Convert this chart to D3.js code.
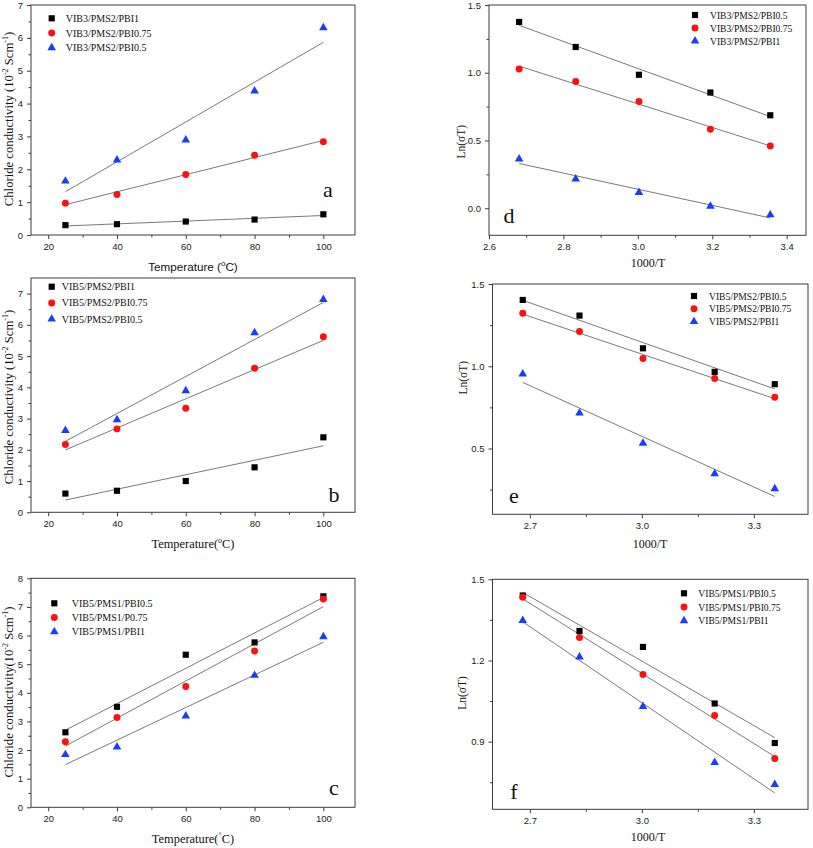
<!DOCTYPE html>
<html><head><meta charset="utf-8">
<script src="https://cdn.jsdelivr.net/npm/d3@7"></script>
<style>body{margin:0;background:#fff}</style>
</head><body><svg id="c" width="813" height="848" xmlns="http://www.w3.org/2000/svg"></svg>
<script>
// ---------- data ----------
const tempX = [25, 40, 60, 80, 100];
const invT = [2.681, 2.833, 3.003, 3.195, 3.356];

const aNames = ["VIB3/PMS2/PBI1", "VIB3/PMS2/PBI0.75", "VIB3/PMS2/PBI0.5"];
const a_PBI1 = [0.30, 0.33, 0.41, 0.47, 0.63];
const a_PBI075 = [0.97, 1.23, 1.84, 2.43, 2.84];
const a_PBI05 = [1.64, 2.28, 2.89, 4.38, 6.31];

const bNames = ["VIB5/PMS2/PBI1", "VIB5/PMS2/PBI0.75", "VIB5/PMS2/PBI0.5"];
const b_PBI1 = [0.60, 0.69, 1.00, 1.44, 2.40];
const b_PBI075 = [2.17, 2.67, 3.33, 4.61, 5.62];
const b_PBI05 = [2.62, 2.96, 3.89, 5.75, 6.81];

const cNames = ["VIB5/PMS1/PBI0.5", "VIB5/PMS1/P0.75", "VIB5/PMS1/PBI1"];
const c_PBI05 = [2.62, 3.51, 5.33, 5.76, 7.37];
const c_P075 = [2.29, 3.14, 4.22, 5.46, 7.28];
const c_PBI1 = [1.84, 2.11, 3.19, 4.61, 5.96];

const dNames = ["VIB3/PMS2/PBI0.5", "VIB3/PMS2/PBI0.75", "VIB3/PMS2/PBI1"];
const d_PBI05 = [1.375, 1.190, 0.985, 0.854, 0.686];
const d_PBI075 = [1.027, 0.936, 0.788, 0.583, 0.459];
const d_PBI1 = [0.363, 0.215, 0.116, 0.015, -0.049];

const eNames = ["VIB5/PMS2/PBI0.5", "VIB5/PMS2/PBI0.75", "VIB5/PMS2/PBI1"];
const e_PBI05 = [1.403, 1.308, 1.109, 0.966, 0.891];
const e_PBI075 = [1.322, 1.211, 1.047, 0.925, 0.812];
const e_PBI1 = [0.953, 0.715, 0.532, 0.346, 0.255];

const fNames = ["VIB5/PMS1/PBI0.5", "VIB5/PMS1/PBI0.75", "VIB5/PMS1/PBI1"];
const f_PBI05 = [1.440, 1.309, 1.250, 1.041, 0.895];
const f_PBI075 = [1.434, 1.285, 1.148, 0.997, 0.838];
const f_PBI1 = [1.348, 1.213, 1.030, 0.823, 0.742];

const tempTicks = [20, 40, 60, 80, 100];
const tempMinor = [30, 50, 70, 90];
const dXTicks = [2.6, 2.8, 3.0, 3.2, 3.4];
const dXMinor = [2.7, 2.9, 3.1, 3.3];
const efXTicks = [2.7, 3.0, 3.3];
const efXMinor = [2.85, 3.15];

// ---------- drawing ----------
const svg = d3.select("#c");
const AX = "#3c3c3c";
const FIT = "#7a7a7a";
const SANS = "'Liberation Sans', Arial, sans-serif";
const SERIF = "'Liberation Serif', 'Times New Roman', serif";
const colors = ["#000000", "#ff1010", "#1a3cff"];
const shapes = [d3.symbolSquare, d3.symbolCircle, d3.symbolTriangle];
const sizes = [38, 38, 32];

function linfit(xs, ys) {
  const mx = d3.mean(xs), my = d3.mean(ys);
  let sxy = 0, sxx = 0;
  xs.forEach((x, i) => { sxy += (x - mx) * (ys[i] - my); sxx += (x - mx) * (x - mx); });
  const s = sxy / sxx;
  return x => my + s * (x - mx);
}

function addText(g, parts, attrs) {
  const t = g.append("text");
  Object.entries(attrs).forEach(([k, v]) => t.attr(k, v));
  let restore = 0;
  parts.forEach(p => {
    if (typeof p === "string") {
      const s = t.append("tspan").text(p);
      if (restore) { s.attr("dy", restore); restore = 0; }
    } else {
      t.append("tspan").attr("dy", p.dy - restore).attr("font-size", p.fs).text(p.t);
      restore = -p.dy;
    }
  });
  return t;
}

function panel(cfg) {
  const b = cfg.box;
  const x = d3.scaleLinear().domain(cfg.xDomain).range([b.l, b.r]);
  const y = d3.scaleLinear().domain(cfg.yDomain).range([b.b, b.t]);
  const g = svg.append("g");

  const xa = g.append("g").attr("transform", `translate(0,${b.b})`)
    .call(d3.axisBottom(x).tickValues(cfg.xTicks).tickFormat(cfg.xFmt).tickSize(4).tickPadding(4));
  const xm = g.append("g").attr("transform", `translate(0,${b.b})`)
    .call(d3.axisBottom(x).tickValues(cfg.xMinor).tickFormat("").tickSize(2.5));
  const ya = g.append("g").attr("transform", `translate(${b.l},0)`)
    .call(d3.axisLeft(y).tickValues(cfg.yTicks).tickFormat(cfg.yFmt).tickSize(4).tickPadding(4));
  const ym = g.append("g").attr("transform", `translate(${b.l},0)`)
    .call(d3.axisLeft(y).tickValues(cfg.yMinor).tickFormat("").tickSize(2.5));
  [xa, xm, ya, ym].forEach(a => {
    a.select(".domain").remove();
    a.selectAll("line").attr("stroke", AX).attr("stroke-width", 1);
    a.selectAll("text").attr("font-family", SANS).attr("font-size", 9.5).attr("fill", "#222");
  });
  [xm, ym].forEach(a => a.selectAll("text").remove());

  g.append("rect").attr("x", b.l).attr("y", b.t).attr("width", b.r - b.l).attr("height", b.b - b.t)
    .attr("fill", "none").attr("stroke", AX).attr("stroke-width", 1);

  cfg.series.forEach((ys, i) => {
    const f = linfit(cfg.xs, ys);
    const x0 = d3.min(cfg.xs), x1 = d3.max(cfg.xs);
    g.append("line").attr("x1", x(x0)).attr("y1", y(f(x0))).attr("x2", x(x1)).attr("y2", y(f(x1)))
      .attr("stroke", FIT).attr("stroke-width", 1);
  });
  cfg.series.forEach((ys, i) => {
    g.selectAll(null).data(ys).enter().append("path")
      .attr("d", d3.symbol().type(shapes[i]).size(sizes[i]))
      .attr("transform", (d, j) => `translate(${x(cfg.xs[j])},${y(d)})`)
      .attr("fill", colors[i]);
  });

  const L = cfg.legend;
  cfg.names.forEach((n, i) => {
    const yy = L.y + i * L.dy;
    g.append("path").attr("d", d3.symbol().type(shapes[i]).size(sizes[i]))
      .attr("transform", `translate(${L.sx},${yy})`).attr("fill", colors[i]);
    g.append("text").attr("x", L.tx).attr("y", yy + 3.5).attr("font-family", SERIF)
      .attr("font-size", L.fs).attr("fill", "#111").text(n);
  });

  g.append("text").attr("x", cfg.letter.x).attr("y", cfg.letter.y).attr("text-anchor", "middle")
    .attr("font-family", SERIF).attr("font-size", 22).attr("fill", "#111").text(cfg.letter.t);

  addText(g, cfg.xTitle.parts, { x: cfg.xTitle.x, y: cfg.xTitle.y, "text-anchor": "middle",
    "font-family": cfg.xTitle.font, "font-size": cfg.xTitle.fs, fill: "#111" });
  addText(g, cfg.yTitle.parts, { transform: `translate(${cfg.yTitle.x},${cfg.yTitle.y}) rotate(-90)`,
    "text-anchor": "middle", "font-family": SERIF, "font-size": cfg.yTitle.fs, fill: "#111" });
}

const intF = d3.format("d");
const f1 = d3.format(".1f");
const supO = { t: "o", dy: -5, fs: 8 };
const condTitle = sp => ["Chloride conductivity" + sp + "(10", { t: "-2", dy: -5, fs: 8 }, " Scm", { t: "-1", dy: -5, fs: 8 }, ")"];
const lnParts = ["Ln(\u03c3T)"];

panel({
  box: { l: 31, r: 355, t: 5, b: 235 }, xDomain: [15, 109.2], yDomain: [0, 7],
  xTicks: tempTicks, xMinor: tempMinor, xFmt: intF,
  yTicks: d3.range(0, 8), yMinor: d3.range(0.5, 7, 1), yFmt: intF,
  xs: tempX, series: [a_PBI1, a_PBI075, a_PBI05], names: aNames,
  legend: { sx: 51.7, tx: 65.7, y: 18.3, dy: 14.7, fs: 10 },
  letter: { t: "a", x: 328, y: 197 },
  xTitle: { parts: ["Temperature (", supO, "C)"], x: 193, y: 271, font: SANS, fs: 11.7 },
  yTitle: { parts: condTitle(" "), x: 13, y: 119, fs: 12.7 }
});
panel({
  box: { l: 31, r: 355, t: 278, b: 512.3 }, xDomain: [15, 109.2], yDomain: [0, 7.5],
  xTicks: tempTicks, xMinor: tempMinor, xFmt: intF,
  yTicks: d3.range(0, 8), yMinor: d3.range(0.5, 7.5, 1), yFmt: intF,
  xs: tempX, series: [b_PBI1, b_PBI075, b_PBI05], names: bNames,
  legend: { sx: 51.7, tx: 61.7, y: 286.7, dy: 16.2, fs: 10 },
  letter: { t: "b", x: 334, y: 502 },
  xTitle: { parts: ["Temperature(", supO, "C)"], x: 193, y: 548, font: SERIF, fs: 12.4 },
  yTitle: { parts: condTitle(" "), x: 13, y: 397, fs: 12.7 }
});
panel({
  box: { l: 31, r: 355, t: 578.3, b: 807.3 }, xDomain: [15, 109.2], yDomain: [0, 8],
  xTicks: tempTicks, xMinor: tempMinor, xFmt: intF,
  yTicks: d3.range(0, 9), yMinor: d3.range(0.5, 8, 1), yFmt: intF,
  xs: tempX, series: [c_PBI05, c_P075, c_PBI1], names: cNames,
  legend: { sx: 54.3, tx: 71.7, y: 603.3, dy: 14.2, fs: 10 },
  letter: { t: "c", x: 334, y: 795 },
  xTitle: { parts: ["Temperature(", { t: "\u02da", dy: -3, fs: 10 }, "C)"], x: 193, y: 843, font: SERIF, fs: 12.4 },
  yTitle: { parts: condTitle(""), x: 13, y: 692, fs: 12.7 }
});
panel({
  box: { l: 489, r: 806, t: 5, b: 235.3 }, xDomain: [2.6, 3.452], yDomain: [-0.2, 1.5],
  xTicks: dXTicks, xMinor: dXMinor, xFmt: f1,
  yTicks: [0, 0.5, 1.0, 1.5], yMinor: [0.25, 0.75, 1.25], yFmt: f1,
  xs: invT, series: [d_PBI05, d_PBI075, d_PBI1], names: dNames,
  legend: { sx: 695, tx: 710, y: 15, dy: 13, fs: 9.6 },
  letter: { t: "d", x: 509, y: 223 },
  xTitle: { parts: ["1000/T"], x: 648, y: 267, font: SERIF, fs: 12 },
  yTitle: { parts: lnParts, x: 465, y: 141.7, fs: 11.5 }
});
panel({
  box: { l: 492.5, r: 808, t: 284, b: 514.3 }, xDomain: [2.6, 3.445], yDomain: [0.1, 1.5],
  xTicks: efXTicks, xMinor: efXMinor, xFmt: f1,
  yTicks: [0.5, 1.0, 1.5], yMinor: [0.25, 0.75, 1.25], yFmt: f1,
  xs: invT, series: [e_PBI05, e_PBI075, e_PBI1], names: eNames,
  legend: { sx: 694, tx: 709, y: 296, dy: 12.8, fs: 9.6 },
  letter: { t: "e", x: 514, y: 503 },
  xTitle: { parts: ["1000/T"], x: 650, y: 548, font: SERIF, fs: 12 },
  yTitle: { parts: lnParts, x: 467, y: 377.7, fs: 11.5 }
});
panel({
  box: { l: 492.5, r: 808, t: 579.3, b: 809.3 }, xDomain: [2.6, 3.445], yDomain: [0.65, 1.5],
  xTicks: efXTicks, xMinor: efXMinor, xFmt: f1,
  yTicks: [0.9, 1.2, 1.5], yMinor: [0.75, 1.05, 1.35], yFmt: f1,
  xs: invT, series: [f_PBI05, f_PBI075, f_PBI1], names: fNames,
  legend: { sx: 684, tx: 698.3, y: 593.3, dy: 13.7, fs: 9.6 },
  letter: { t: "f", x: 514, y: 799 },
  xTitle: { parts: ["1000/T"], x: 648, y: 841, font: SERIF, fs: 12 },
  yTitle: { parts: lnParts, x: 466, y: 693, fs: 11.5 }
});
</script></body></html>
